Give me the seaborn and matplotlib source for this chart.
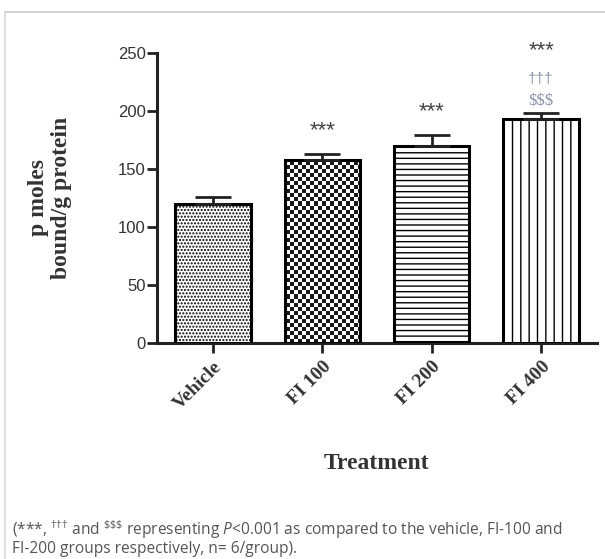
import numpy as np
import matplotlib
matplotlib.use("Agg")
import matplotlib.pyplot as plt
import seaborn as sns

# data
groups = ["Vehicle", "FI 100", "FI 200", "FI 400"]
means = [120, 158, 170, 193]
sems = [6, 5, 9, 5]
stars = ["", "***", "***", "***"]
daggers = ["", "", "", "\u2020\u2020\u2020"]
dollars = ["", "", "", "$$$"]

sns.set_theme(style="ticks")
plt.rcParams["font.family"] = ["Liberation Sans", "DejaVu Sans"]
plt.rcParams["mathtext.fontset"] = "custom"
plt.rcParams["mathtext.rm"] = "Open Sans"
plt.rcParams["mathtext.it"] = "Open Sans:italic"
plt.rcParams["hatch.linewidth"] = 1.0

fig = plt.figure(figsize=(6.05, 5.59), dpi=100)
ax = fig.add_axes([157/605, 1-343/559, 440/605, 290/559])

sns.barplot(x=groups, y=means, color="white", edgecolor="black",
            linewidth=2.2, width=0.69, errorbar=None, ax=ax, zorder=3)

# fills: fine dots, checkerboard (texture image), horizontal, vertical lines
bars = ax.patches
bars[0].set_hatch(".....")
bars[2].set_hatch("---")
bars[3].set_hatch("||")
bars[1].set_facecolor("none")

# checkerboard texture clipped to the FI 100 bar (4 px cells)
nx, ny = 110, 72
ii, jj = np.meshgrid(np.arange(nx), np.arange(ny))
checker = ((ii + jj) % 2) * 0.88 + 0.1
img = ax.imshow(checker, cmap="gray", extent=(0, 1, 0, 1), transform=ax.transAxes,
                interpolation="nearest", aspect="auto", zorder=2.5, vmin=0, vmax=1)
img.set_clip_path(bars[1])

ax.errorbar(range(len(groups)), means, yerr=[np.zeros(len(sems)), sems],
            fmt="none", ecolor="#222222", elinewidth=2, capsize=13, capthick=2,
            zorder=4)

ax.set_xlim(-0.51, 3.51)
ax.set_ylim(0, 250)
ax.set_yticks([0, 50, 100, 150, 200, 250])

for s in ["top", "right"]:
    ax.spines[s].set_visible(False)
for s in ["left", "bottom"]:
    ax.spines[s].set_linewidth(2.2)
    ax.spines[s].set_color("#222222")
ax.tick_params(axis="both", width=2, length=7, color="#222222", pad=1)
ax.tick_params(axis="y", labelsize=12, labelcolor="#333333")
ax.tick_params(axis="x", labelsize=14, labelcolor="#333333", pad=4)
for lab in ax.get_xticklabels():
    lab.set_rotation(45)
    lab.set_ha("right")
    lab.set_va("top")
    lab.set_rotation_mode("anchor")
    lab.set_family("Liberation Serif")
    lab.set_weight("bold")

ax.set_xlabel("Treatment", family="Liberation Serif", weight="bold", fontsize=17,
              color="#333333", labelpad=29)
ax.set_ylabel("p moles\nbound/g protein", family="Liberation Serif", weight="bold",
              fontsize=17, color="#333333", labelpad=33, linespacing=1.15)

for i in range(len(groups)):
    if stars[i]:
        y = 252 if daggers[i] else means[i] + sems[i] + 20
        ax.text(i, y, stars[i], ha="center", va="center", fontsize=16,
                color="#444444", clip_on=False)
    if daggers[i]:
        ax.text(i, 228, daggers[i], ha="center", va="center", fontsize=11,
                color="#8a90aa", clip_on=False)
    if dollars[i]:
        ax.text(i, 209, dollars[i], ha="center", va="center", fontsize=12,
                color="#8a90aa", family="Liberation Serif", clip_on=False)

# footnote
fig.text(12/605, 1-530/559,
         r"(***, $^{†††}$ and $^{\$\$\$}$ representing $P$<0.001 as compared to the vehicle, FI-100 and",
         family="Open Sans", fontsize=11.2, color="#555555", va="center")
fig.text(12/605, 1-549/559, "FI-200 groups respectively, n= 6/group).",
         family="Open Sans", fontsize=11.2, color="#555555", va="center")

# light frame lines (top and left)
fig.add_artist(plt.Line2D([5/605, 1], [1-12/559, 1-12/559], color="#c8c8c8", lw=1.2))
fig.add_artist(plt.Line2D([5/605, 5/605], [0, 1-12/559], color="#d8d8d8", lw=1.2))

fig.savefig("out.png", dpi=100, facecolor="white")
